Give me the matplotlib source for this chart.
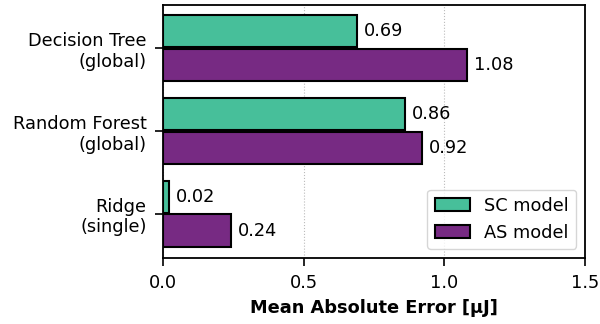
import numpy as np
import matplotlib.pyplot as plt

models = ["Decision Tree\n(global)", "Random Forest\n(global)", "Ridge\n(single)"]
sc_mae = [0.69, 0.86, 0.02]
as_mae = [1.08, 0.92, 0.24]

sc_color = "#47bf9a"
as_color = "#772a83"

plt.rcParams["font.size"] = 12.8

fig, ax = plt.subplots(figsize=(6, 3.24), dpi=100)
y = np.arange(len(models))
h = 0.39

b1 = ax.barh(y - h / 2 - 0.01, sc_mae, height=h, color=sc_color,
             edgecolor="black", linewidth=1.5, label="SC model", zorder=3)
b2 = ax.barh(y + h / 2 + 0.01, as_mae, height=h, color=as_color,
             edgecolor="black", linewidth=1.5, label="AS model", zorder=3)
ax.bar_label(b1, fmt="%.2f", padding=5)
ax.bar_label(b2, fmt="%.2f", padding=5)

ax.set_yticks(y)
ax.set_yticklabels(models, ha="right", multialignment="right")
ax.set_ylim(2.53, -0.52)
ax.set_xlim(0, 1.5)
ax.set_xticks([0, 0.5, 1.0, 1.5])
ax.tick_params(length=6, width=1.2, pad=6)
ax.grid(axis="x", linestyle=":", color="#bbbbbb", linewidth=0.8, zorder=0)
ax.set_xlabel("Mean Absolute Error [µJ]", fontweight="bold", labelpad=5)
for s in ax.spines.values():
    s.set_linewidth(1.3)
ax.legend(loc="lower right")

fig.subplots_adjust(left=0.272, right=0.975, top=0.985, bottom=0.205)
fig.savefig("out.png")
